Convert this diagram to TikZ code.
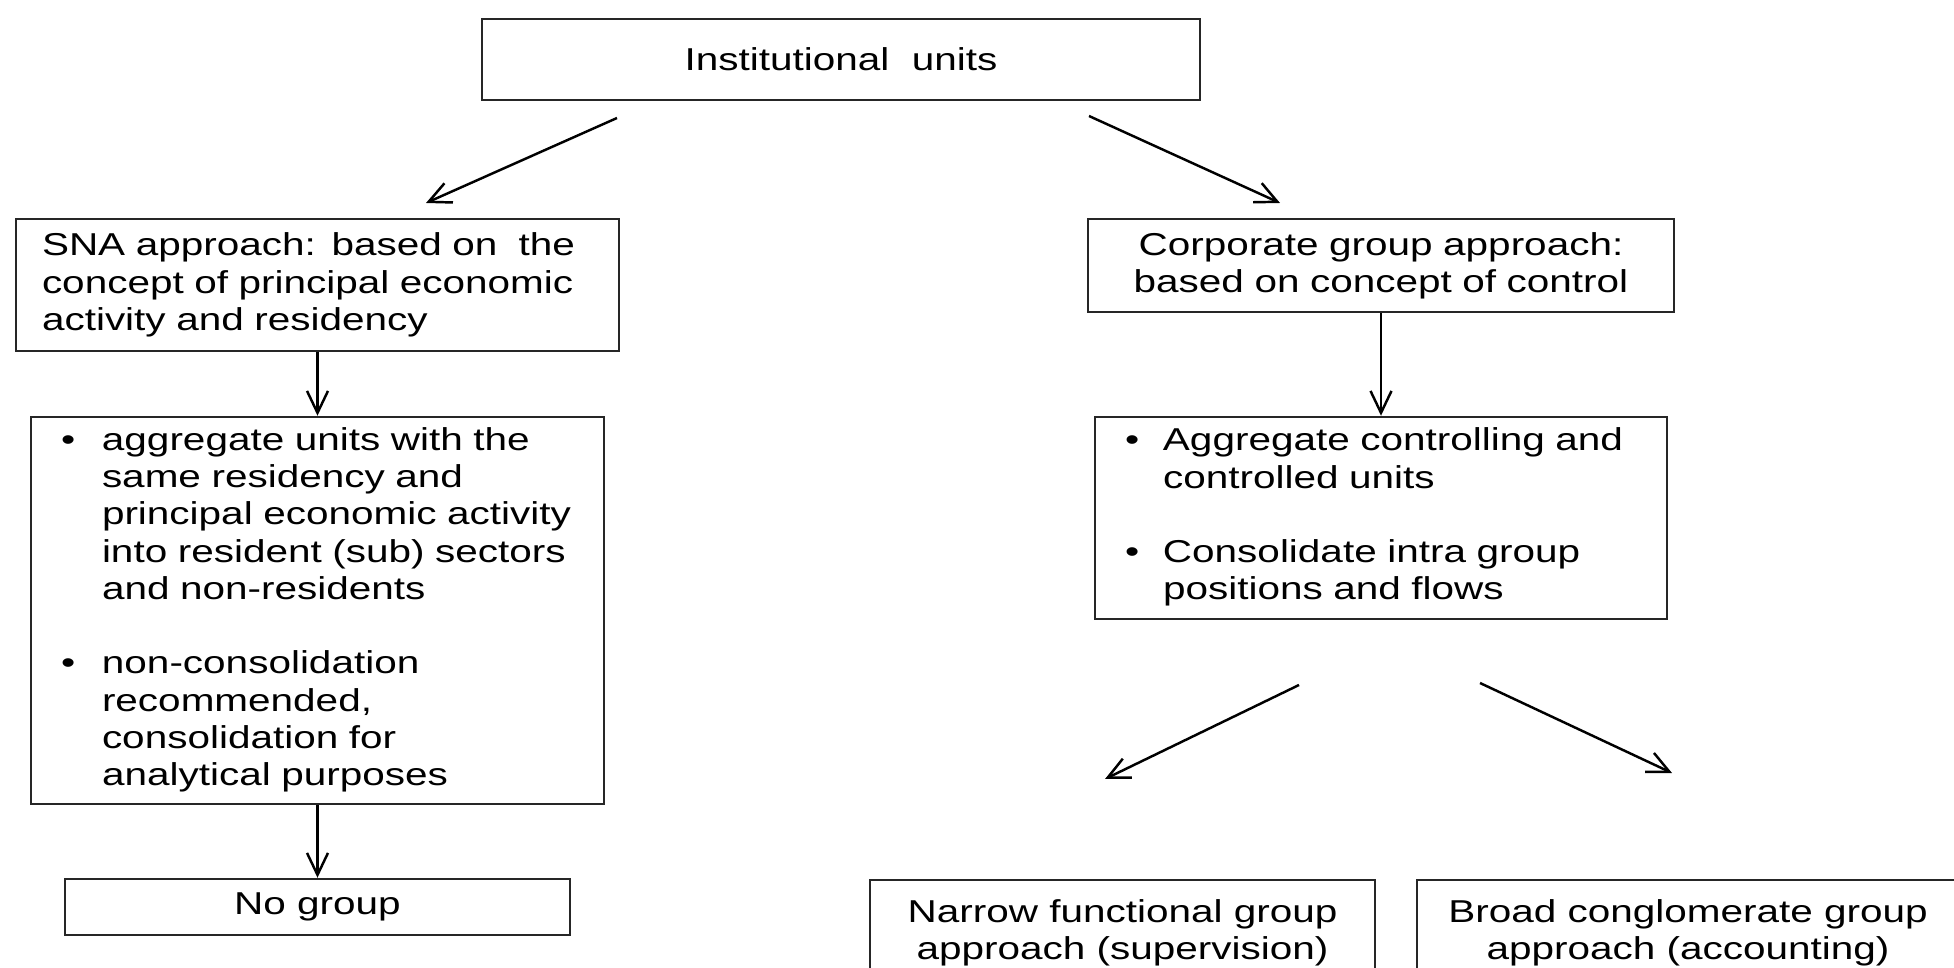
\documentclass[tikz,border=0pt]{standalone}
\usepackage{fontspec}
\setmainfont[FakeStretch=1.28]{Liberation Sans}
\usetikzlibrary{arrows.meta,positioning}

\begin{document}
\begin{tikzpicture}[>={Straight Barb[length=2.2mm,width=2.1mm]},line width=0.7pt,
box/.style = {draw=black!85, rectangle, inner xsep=0.26cm, inner ysep=0pt, font=\fontsize{9}{10.6}\selectfont},
list/.style = {box, inner xsep=0.30cm, align=left},]
\useasboundingbox (0,0) rectangle (19.54,-9.68);
\clip (0,0) rectangle (19.54,-9.68);
\node (inst) at (8.41,-0.595)[box,minimum width=7.18cm,minimum height=0.81cm] {Institutional\ \ units};
\node (sna) at (3.175,-2.85)[box,text width=5.51cm,minimum height=1.32cm,align=left] {SNA approach: based on\ \ the\\ concept of principal economic\\ activity and residency};
\node (corp) at (13.81,-2.655)[box,text width=5.34cm,minimum height=0.93cm,align=center] {Corporate group approach:\\ based on concept of control};
\node (snalist) at (3.175,-6.105)[list,text width=5.13cm,minimum height=3.87cm] {%
\begin{tabular}{@{}p{0.41cm}@{}l@{}}
\textbullet & aggregate units with the\\
 & same residency and\\
 & principal economic activity\\
 & into resident (sub) sectors\\
 & and non-residents\\
 & \\
\textbullet & non-consolidation\\
 & recommended,\\
 & consolidation for\\
 & analytical purposes
\end{tabular}};
\node (corplist) at (13.81,-5.18)[list,text width=5.12cm,minimum height=2.02cm] {%
\begin{tabular}{@{}p{0.38cm}@{}l@{}}
\textbullet & Aggregate controlling and\\
 & controlled units\\
 & \\
\textbullet & Consolidate intra group\\
 & positions and flows
\end{tabular}};
\node (nogroup) at (3.175,-9.07)[box,minimum width=5.05cm,minimum height=0.56cm] {No group};
\node (narrow) at (11.225,-8.79)[box,anchor=north,minimum width=5.05cm,minimum height=1.05cm,align=center] {Narrow functional group\\ approach (supervision)};
\node (broad) at (16.88,-8.79)[box,anchor=north,minimum width=5.42cm,minimum height=1.05cm,align=center] {Broad conglomerate group\\ approach (accounting)};
% free ends of the slanted arrows
\coordinate (a1s) at (6.17,-1.18); \coordinate (a1e) at (4.26,-2.03);
\coordinate (a2s) at (10.89,-1.16); \coordinate (a2e) at (12.80,-2.03);
\coordinate (a6s) at (12.99,-6.85); \coordinate (a6e) at (11.05,-7.79);
\coordinate (a7s) at (14.80,-6.83); \coordinate (a7e) at (16.72,-7.73);
\draw[->] (a1s)--(a1e);
\draw[->] (a2s)--(a2e);
\draw[->] (sna)--(snalist);
\draw[->] (corp)--(corplist);
\draw[->] (snalist)--(nogroup);
\draw[->] (a6s)--(a6e);
\draw[->] (a7s)--(a7e);
\end{tikzpicture}
\end{document}
